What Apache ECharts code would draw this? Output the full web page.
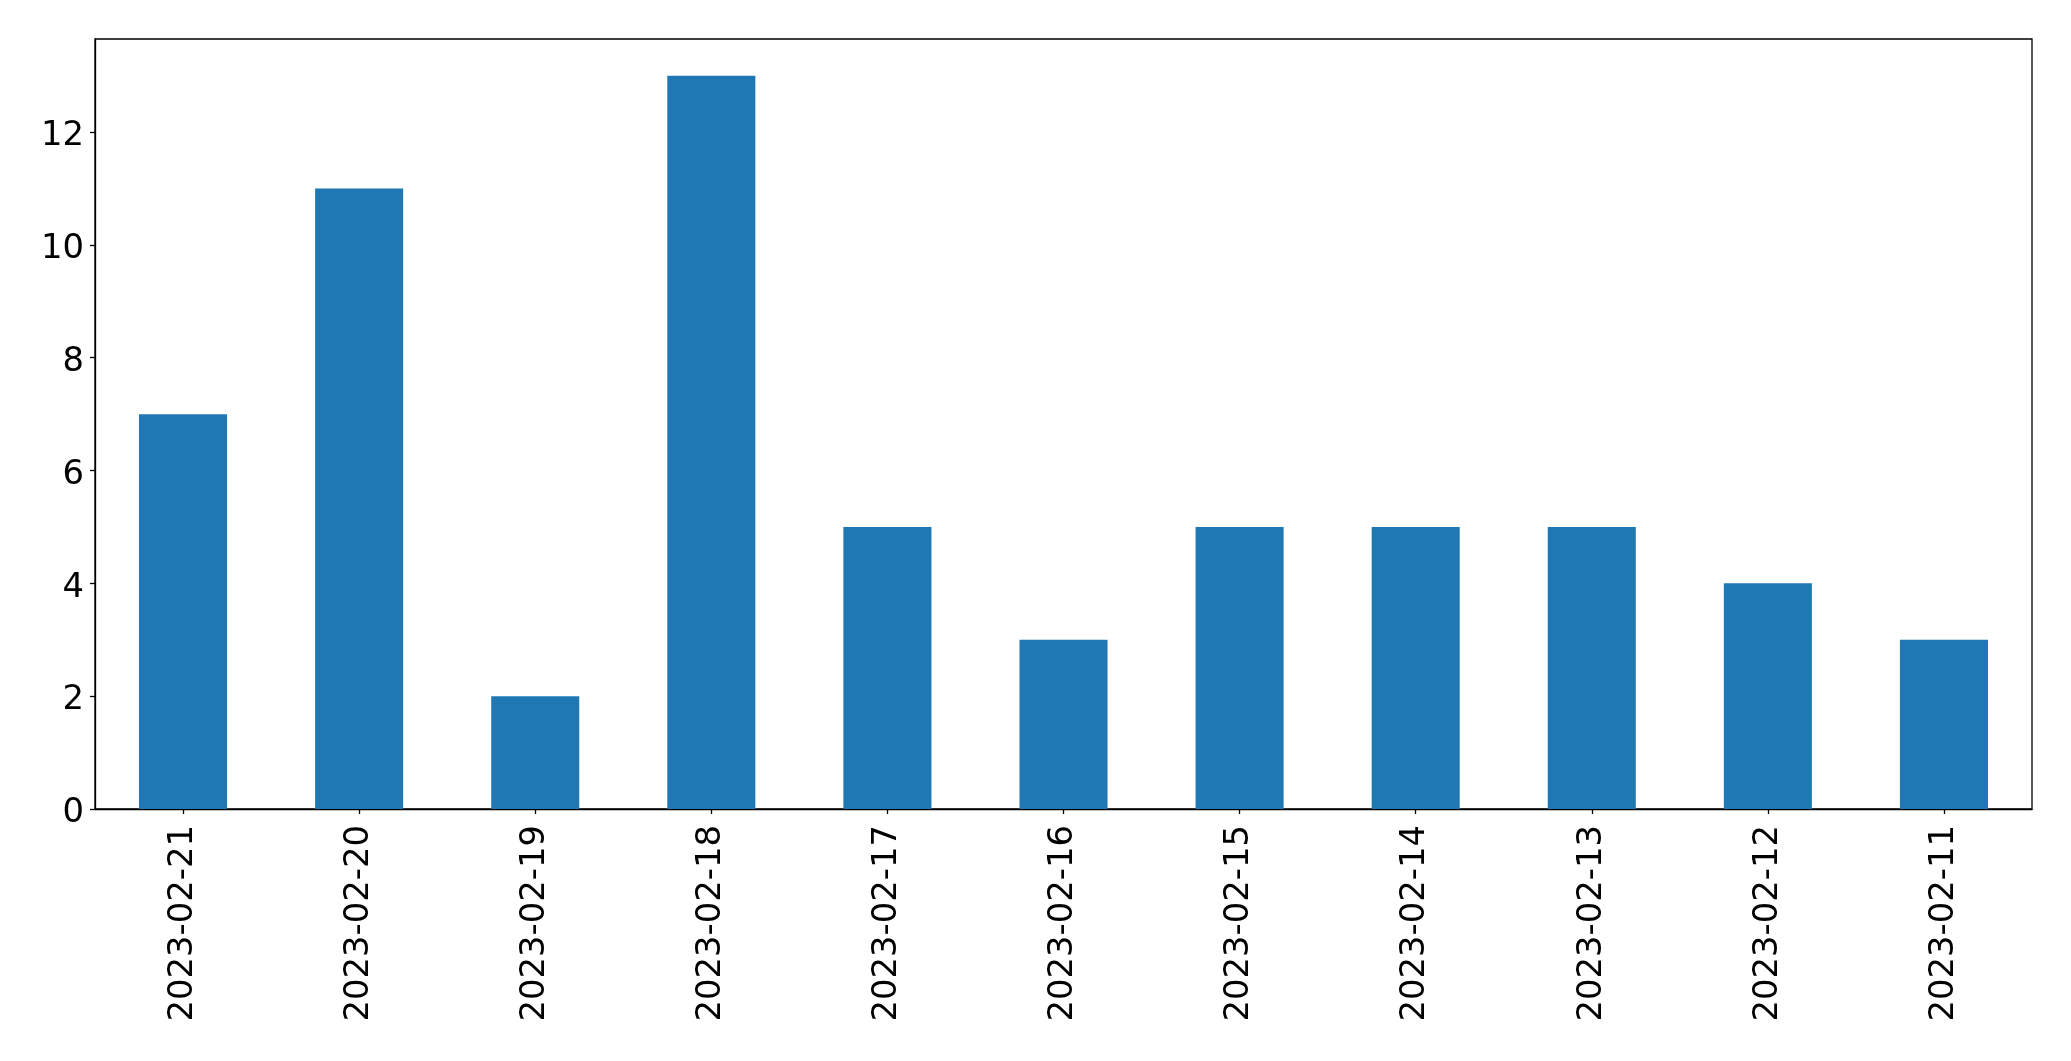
<!DOCTYPE html>
<html>
<head>
<meta charset="utf-8">
<script src="https://cdn.jsdelivr.net/npm/echarts@6/dist/echarts.min.js"></script>
<style>
html,body{margin:0;padding:0;background:#fff;}
#chart{width:2071px;height:1061px;}
</style>
</head>
<body>
<div id="chart"></div>
<script>
const categories = ['2023-02-21','2023-02-20','2023-02-19','2023-02-18','2023-02-17','2023-02-16','2023-02-15','2023-02-14','2023-02-13','2023-02-12','2023-02-11'];
const values = [7, 11, 2, 13, 5, 3, 5, 5, 5, 4, 3];
const yTicks = [0, 2, 4, 6, 8, 10, 12];

const chart = echarts.init(document.getElementById('chart'), null, {renderer: 'canvas'});
chart.setOption({
  animation: false,
  backgroundColor: '#fff',
  grid: {
    left: 95, right: 2071 - 2032, top: 39, bottom: 1061 - 809,
    show: true, borderColor: '#000', borderWidth: 1.3, backgroundColor: 'transparent'
  },
  xAxis: {
    type: 'category',
    data: categories,
    boundaryGap: true,
    axisLine: {show: true, lineStyle: {color: '#000', width: 1.3}},
    axisTick: {show: true, alignWithLabel: true, length: 5, lineStyle: {color: '#000', width: 1.3}},
    axisLabel: {rotate: 90, margin: 16, color: '#000', fontFamily: 'DejaVu Sans', fontSize: 33.8, interval: 0},
    splitLine: {show: false}
  },
  yAxis: {
    type: 'value',
    min: 0, max: 13.65, interval: 2,
    axisLine: {show: true, lineStyle: {color: '#000', width: 1.3}},
    axisTick: {show: true, length: 5, lineStyle: {color: '#000', width: 1.3}, customValues: yTicks},
    axisLabel: {
      margin: 11, color: '#000', fontFamily: 'DejaVu Sans', fontSize: 33.8, customValues: yTicks,
      formatter: '{v|{value}}',
      rich: {v: {padding: [9, 0, 0, 0], color: '#000', fontFamily: 'DejaVu Sans', fontSize: 33.8}}
    },
    splitLine: {show: false}
  },
  series: [{
    type: 'bar',
    data: values,
    barWidth: '50%',
    itemStyle: {color: '#1f77b4'}
  }]
});
</script>
</body>
</html>
